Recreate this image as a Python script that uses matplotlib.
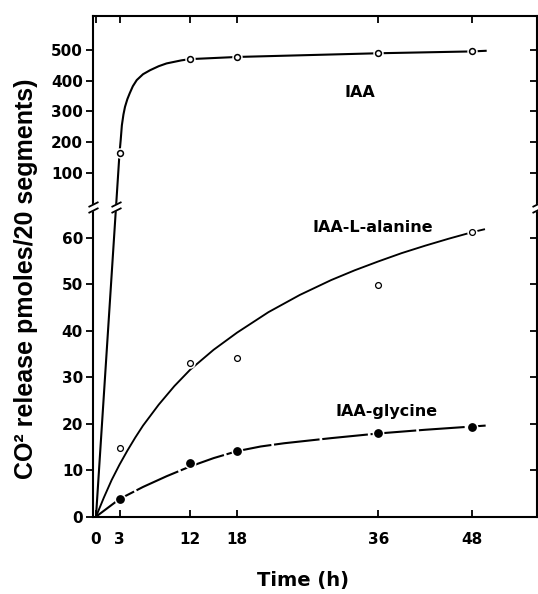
import numpy as np
import matplotlib.pyplot as plt
from matplotlib.path import Path

# === DATA ===
hours = [3, 12, 18, 36, 48]
iaa = [165, 470, 477, 489, 495]
alanine = [14.7, 33.1, 34.2, 49.9, 61.2]
glycine = [3.8, 11.6, 14.1, 17.9, 19.4]

# hand-drawn curves through the points
iaa_curve_t = [0, 3, 3.15, 3.3, 3.5, 3.7, 4.0, 4.3, 4.7, 5.2, 6.0, 6.9, 8.0, 9.0, 10.9, 12, 18, 36, 48, 49.7]
iaa_curve_v = [0, 165, 207, 255, 290, 315, 340, 359, 382, 402, 421, 434, 447, 456, 466, 470, 477, 489, 495, 497]
alanine_curve_t = [0, 1, 2, 3, 4, 5, 6, 8, 10, 12, 15, 18, 22, 26, 30, 33, 36, 39, 42, 45, 48, 49.5]
alanine_curve_v = [0, 4.1, 7.9, 11.2, 14.2, 17.0, 19.6, 24.1, 28.1, 31.6, 35.9, 39.6,
                   44.0, 47.7, 50.9, 53.0, 54.9, 56.7, 58.3, 59.8, 61.2, 61.8]
glycine_curve_t = [0, 3, 6, 9, 12, 15, 18, 21, 24, 30, 36, 42, 48, 49.7]
glycine_curve_v = [0, 3.8, 6.4, 8.7, 10.8, 12.6, 14.1, 15.1, 15.8, 16.9, 17.9, 18.7, 19.4, 19.6]

x_ticks = [0, 3, 12, 18, 36, 48]
y_ticks = [0, 10, 20, 30, 40, 50, 60, 100, 200, 300, 400, 500]
y_break = 66.6

# === STYLE ===
plt.rcParams['font.family'] = 'DejaVu Sans'
plt.rcParams['font.weight'] = 'bold'

# broken y axis: expanded scale below the break, compressed above
LOW, HIGH, OFF = 4.65, 0.308, 312.9
B = OFF / (LOW - HIGH)


def fwd(y):
    y = np.asarray(y, dtype=float)
    return np.where(y <= B, y * LOW, OFF + y * HIGH)


def inv(f):
    f = np.asarray(f, dtype=float)
    return np.where(f <= B * LOW, f / LOW, (f - OFF) / HIGH)


fig = plt.figure(figsize=(5.38, 5.94), dpi=100)
ax = fig.add_axes([92.7 / 538, (594 - 516.7) / 594, (537 - 92.7) / 538, (516.7 - 16) / 594])
ax.set_yscale('function', functions=(fwd, inv))
ax.set_xlim(-0.42, 56.25)
ax.set_ylim(0, 610)

lw = 1.5
ax.plot(iaa_curve_t, iaa_curve_v, color='black', lw=lw, zorder=3, solid_joinstyle='round')
ax.plot(alanine_curve_t, alanine_curve_v, color='black', lw=lw * 0.9, zorder=3,
        solid_joinstyle='round')
ax.plot(glycine_curve_t, glycine_curve_v, color='black', lw=lw,
        linestyle=(0, (22, 1.3)), zorder=3, dash_joinstyle='round')

# white halos make the small gaps around each point
for vals, ms in [(iaa, 6.5), (alanine, 6.5), (glycine, 7.5)]:
    ax.plot(hours, vals, 'o', ms=ms, color='white', mec='white', zorder=4)
ax.plot(hours, iaa, 'o', ms=4.2, mfc='white', mec='black', mew=1.1, zorder=5)
ax.plot(hours, alanine, 'o', ms=4.2, mfc='white', mec='black', mew=0.9, zorder=5)
ax.plot(hours, glycine, 'o', ms=5.3, mfc='black', mec='black', zorder=5)

# break marks
slash = Path([(-5, 0.5), (5, 5.5), (-5, -5.5), (5, -0.5)],
             [Path.MOVETO, Path.LINETO, Path.MOVETO, Path.LINETO])
gap = Path([(-5, -5.5), (5, -0.5), (5, 5.5), (-5, 0.5), (-5, -5.5)],
           [Path.MOVETO, Path.LINETO, Path.LINETO, Path.LINETO, Path.CLOSEPOLY])


def break_mark(x, y, transform):
    ax.plot([x], [y], marker=gap, ms=7.9, mfc='white', mec='white', mew=0.8,
            transform=transform, clip_on=False, zorder=6)
    ax.plot([x], [y], marker=slash, ms=7.9, fillstyle='none', mec='black', mew=1.3,
            transform=transform, clip_on=False, zorder=7)


ytrans = ax.get_yaxis_transform()
break_mark(0, y_break, ytrans)
break_mark(1, y_break, ytrans)
# where the steep IAA segment crosses the break (straight in display space)
frac = (fwd(y_break) - fwd(iaa_curve_v[0])) / (fwd(iaa_curve_v[1]) - fwd(iaa_curve_v[0]))
x_cross = iaa_curve_t[0] + frac * (iaa_curve_t[1] - iaa_curve_t[0])
break_mark(float(x_cross), y_break, ax.transData)

# labels on the curves
ax.text(33.7, 346, 'IAA', ha='center', va='baseline', fontsize=11.5, fontweight='bold')
ax.text(35.3, 61.2, 'IAA-L-alanine', ha='center', va='baseline', fontsize=11.5, fontweight='bold')
ax.text(37.0, 21.7, 'IAA-glycine', ha='center', va='baseline', fontsize=11.5, fontweight='bold')

# axes, ticks
for s in ax.spines.values():
    s.set_linewidth(1.5)
ax.set_xticks(x_ticks)
ax.set_xticklabels([str(t) for t in x_ticks])
ax.tick_params(axis='x', direction='in', top=True, length=5, width=1.3, pad=11,
               labelsize=11)
ax.set_yticks(y_ticks)
ax.set_yticklabels([str(t) for t in y_ticks])
ax.yaxis.set_minor_locator(plt.NullLocator())
ax.tick_params(axis='y', direction='out', left=True, right=False, length=5, width=1.3,
               pad=2, labelsize=11)

ax2 = ax.twinx()
ax2.set_yscale('function', functions=(fwd, inv))
ax2.set_ylim(ax.get_ylim())
ax2.set_yticks(y_ticks[1:])
ax2.yaxis.set_minor_locator(plt.NullLocator())
ax2.tick_params(axis='y', direction='in', length=5, width=1.3, labelright=False)
for s in ax2.spines.values():
    s.set_visible(False)

fig.text(26 / 538, (594 - 279) / 594, 'CO² release pmoles/20 segments)', rotation=90,
         ha='center', va='center', fontsize=18, fontweight='bold', family='Liberation Sans')
fig.text(303 / 538, (594 - 586) / 594, 'Time (h)', ha='center', va='baseline',
         fontsize=14, fontweight='bold')

fig.savefig('out.png', dpi=100)
